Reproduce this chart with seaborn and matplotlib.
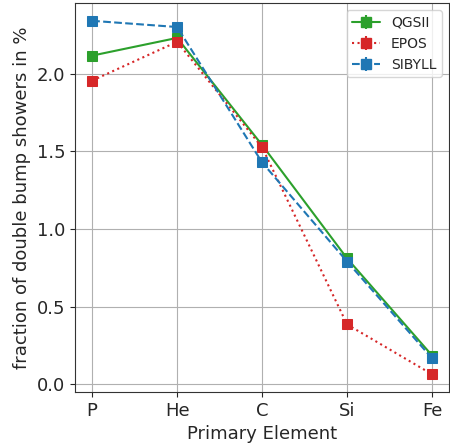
import matplotlib
matplotlib.use("Agg")
import matplotlib.pyplot as plt
import seaborn as sns
import pandas as pd

elements = ["P", "He", "C", "Si", "Fe"]
qgsii = [2.116, 2.23, 1.54, 0.81, 0.185]
epos = [1.955, 2.205, 1.525, 0.385, 0.064]
sibyll = [2.34, 2.30, 1.428, 0.79, 0.167]
models = ["QGSII", "EPOS", "SIBYLL"]
colors = ["#2ca02c", "#d62728", "#1f77b4"]
styles = ["-", ":", "--"]

sns.set_style("ticks")
plt.rcParams["font.family"] = ["DejaVu Sans"]

fig, ax = plt.subplots(figsize=(4.5, 4.48), dpi=100)
fig.subplots_adjust(left=0.167, right=0.998, top=0.993, bottom=0.125)

xpos = list(range(len(elements)))
handles = []
for name, vals, c, ls in zip(models, [qgsii, epos, sibyll], colors, styles):
    df = pd.DataFrame({"x": xpos, "y": vals})
    sns.lineplot(data=df, x="x", y="y", ax=ax, color=c, linestyle=ls,
                 marker="s", markersize=6.5, markeredgecolor=c, linewidth=1.5,
                 legend=False)
    h = ax.errorbar([], [], yerr=[], color=c, linestyle=ls, marker="s",
                    markersize=6.5, capsize=3, linewidth=1.5)
    handles.append(h)

ax.set_xticks(xpos)
ax.set_xticklabels(elements)
ax.set_yticks([0.0, 0.5, 1.0, 1.5, 2.0])
ax.set_yticklabels(["0.0", "0.5", "1.0", "1.5", "2.0"])
ax.tick_params(labelsize=13)
ax.set_xlabel("Primary Element", fontsize=13)
ax.set_ylabel("fraction of double bump showers in %", fontsize=13)
ax.grid(True, color="#b0b0b0", linewidth=0.8)
ax.margins(x=0.05, y=0.05)
for s in ax.spines.values():
    s.set_color("#333333")
ax.legend(handles, models, loc="upper right", fontsize=10, frameon=True)

fig.savefig("out.png", dpi=100)
